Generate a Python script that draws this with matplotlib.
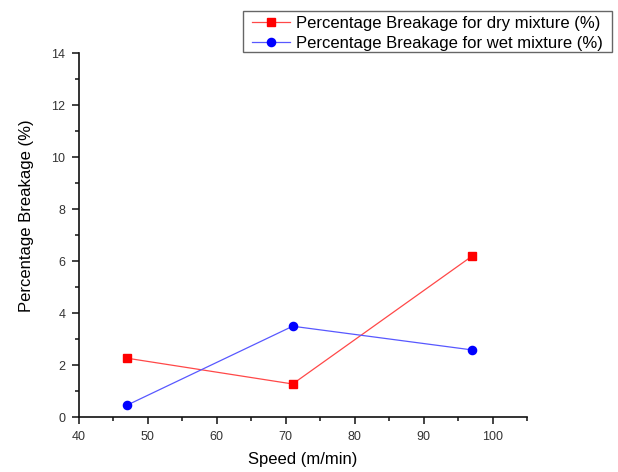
import matplotlib
matplotlib.use("Agg")
from matplotlib import pyplot as plt
from matplotlib.path import Path
from matplotlib.ticker import MultipleLocator

plt.rcParams["font.family"] = ["Liberation Sans", "DejaVu Sans"]

# data
speed = [47, 71, 97]
dry_breakage = [2.27, 1.28, 6.19]
wet_breakage = [0.47, 3.5, 2.59]


def legend_box(x0, y0, width, height, mutation_size):
    # frame with more room left/right than top/bottom
    left = right = 0.55 * mutation_size
    top = 0.3 * mutation_size
    bottom = 0.05 * mutation_size
    x1, y1 = x0 + width + right, y0 + height + top
    x0, y0 = x0 - left, y0 - bottom
    return Path([(x0, y0), (x1, y0), (x1, y1), (x0, y1), (x0, y0)], closed=True)


fig = plt.figure(figsize=(6.18, 4.72), dpi=100)
ax = fig.add_axes([0.1278, 0.1159, 0.725, 0.7718])

(p1,) = ax.plot(speed, dry_breakage, color="#ff4848", lw=0.9, marker="s",
                markersize=5.3, markerfacecolor="red", markeredgecolor="red",
                label="Percentage Breakage for dry mixture (%)")
(p2,) = ax.plot(speed, wet_breakage, color="#5858ff", lw=0.9, marker="o",
                markersize=5.9, markerfacecolor="blue", markeredgecolor="blue",
                label="Percentage Breakage for wet mixture (%)")

ax.set_xlim(40, 105)
ax.set_ylim(0, 14)
ax.xaxis.set_major_locator(MultipleLocator(10))
ax.xaxis.set_minor_locator(MultipleLocator(5))
ax.yaxis.set_major_locator(MultipleLocator(2))
ax.yaxis.set_minor_locator(MultipleLocator(1))

for side in ("top", "right"):
    ax.spines[side].set_visible(False)
for side in ("left", "bottom"):
    ax.spines[side].set_linewidth(1.2)
    ax.spines[side].set_color("#111111")

ax.tick_params(which="major", direction="out", length=5.2, width=1.1,
               labelsize=9, colors="#111111", labelcolor="#333333", pad=4.5)
ax.tick_params(which="minor", direction="out", length=2.8, width=1.1,
               colors="#111111")

ax.set_xlabel("Speed (m/min)", fontsize=12)
ax.set_ylabel("Percentage Breakage (%)", fontsize=12)
ax.xaxis.set_label_coords(0.5, -0.095)
ax.yaxis.set_label_coords(-0.100, 0.553)

leg = fig.legend(handles=[p1, p2], loc="upper left",
                 bbox_to_anchor=(0.4076, 0.9667), fontsize=12,
                 frameon=True, fancybox=False, edgecolor="#404040",
                 borderpad=0, labelspacing=0.3, handlelength=2.3,
                 handletextpad=0.34, borderaxespad=0)
leg.get_frame().set_linewidth(1.0)
leg.get_frame().set_boxstyle(legend_box)

fig.savefig("out.png", dpi=100)
